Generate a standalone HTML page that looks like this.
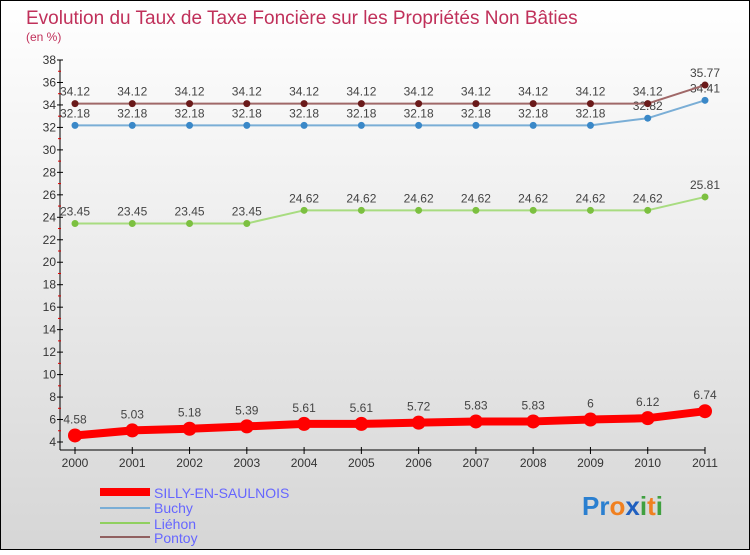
<!DOCTYPE html>
<html><head><meta charset="utf-8"><style>
html,body{margin:0;padding:0}
body{width:750px;height:550px;overflow:hidden;font-family:"Liberation Sans",sans-serif}
</style></head><body>
<svg id="chart" width="750" height="550" xmlns="http://www.w3.org/2000/svg">
<defs><linearGradient id="bg" x1="0" y1="0" x2="0" y2="1"><stop offset="0" stop-color="#ffffff"/><stop offset="1" stop-color="#d6d6d6"/></linearGradient></defs>
<rect x="0.5" y="0.5" width="749" height="549" fill="url(#bg)" stroke="#000"/>
<text x="26" y="24" font-size="19" fill="#c0305a">Evolution du Taux de Taxe Foncière sur les Propriétés Non Bâties</text>
<text x="26" y="41" font-size="12" fill="#c0305a">(en %)</text>
<g id="axes"></g><g id="series"></g>
<g>
<rect x="100" y="488" width="50" height="8" fill="#f00"/>
<text x="154" y="498" font-size="14" fill="#6666ff">SILLY-EN-SAULNOIS</text>
<line x1="100" y1="508" x2="150" y2="508" stroke="#7aaed6" stroke-width="2"/>
<text x="154" y="513" font-size="14" fill="#6666ff">Buchy</text>
<line x1="100" y1="523" x2="150" y2="523" stroke="#90d060" stroke-width="2"/>
<text x="154" y="529" font-size="14" fill="#6666ff">Liéhon</text>
<line x1="100" y1="537" x2="150" y2="537" stroke="#906060" stroke-width="2"/>
<text x="154" y="543" font-size="14" fill="#6666ff">Pontoy</text>
</g>
<text x="582" y="515" font-size="26" font-weight="bold"><tspan fill="#2a7fd0">Pr</tspan><tspan fill="#f08020">o</tspan><tspan fill="#2060c0">x</tspan><tspan fill="#40a040">i</tspan><tspan fill="#f08020">t</tspan><tspan fill="#40a040">i</tspan></text>
</svg>
<script>
const years=["2000","2001","2002","2003","2004","2005","2006","2007","2008","2009","2010","2011"];
const silly=[4.58,5.03,5.18,5.39,5.61,5.61,5.72,5.83,5.83,6,6.12,6.74];
const buchy=[32.18,32.18,32.18,32.18,32.18,32.18,32.18,32.18,32.18,32.18,32.82,34.41];
const liehon=[23.45,23.45,23.45,23.45,24.62,24.62,24.62,24.62,24.62,24.62,24.62,25.81];
const pontoy=[34.12,34.12,34.12,34.12,34.12,34.12,34.12,34.12,34.12,34.12,34.12,35.77];
const yTicks=[4,6,8,10,12,14,16,18,20,22,24,26,28,30,32,34,36,38];
const NS="http://www.w3.org/2000/svg";
const x=i=>75+i*(630/(years.length-1));
const y=v=>442-(v-4)*(382/34);
function mk(t,a,p){const e=document.createElementNS(NS,t);for(const k in a)e.setAttribute(k,a[k]);p.appendChild(e);return e;}
const ax=document.getElementById('axes');
const yl=mk('line',{x1:60,y1:60,x2:60,y2:450,stroke:'#000'},ax);

const xl=mk('line',{x1:60,y1:450,x2:705,y2:450,stroke:'#000'},ax);

yTicks.forEach((t,i)=>{
 mk('line',{x1:57,y1:y(t),x2:63,y2:y(t),stroke:'#000'},ax);
 if(i<yTicks.length-1)mk('line',{x1:58,y1:y(t+1),x2:61,y2:y(t+1),stroke:'#d00'},ax);
 const l=mk('text',{x:56,y:y(t)+4,'font-size':12,fill:'#333','text-anchor':'end'},ax);
 
 
 l.textContent=t;
});
years.forEach((yr,i)=>{
 mk('line',{x1:x(i),y1:447,x2:x(i),y2:454,stroke:'#000'},ax);
 const l=mk('text',{x:x(i),y:467,'font-size':12,fill:'#333','text-anchor':'middle'},ax);
 
 
 l.textContent=yr;
});
const sg=document.getElementById('series');
function draw(name,vals,color,dot,w,r,lab){
 const g=mk('g',{},sg);
 
 
 const pl=mk('polyline',{points:vals.map((v,i)=>x(i)+','+y(v)).join(' '),fill:'none',stroke:color,'stroke-width':w,'stroke-linejoin':'round'},g);
 
 
 vals.forEach((v,i)=>{
  const c=mk('circle',{cx:x(i),cy:y(v),r:r,fill:dot},g);
  
  
  const t=mk('text',{x:x(i),y:y(v)-lab,'font-size':12,fill:'#444','text-anchor':'middle'},g);
  
  
  t.textContent=v;
 });
}
draw('liehon',liehon,'#a8dc80','#7cc040',2,3.5,8);
draw('buchy',buchy,'#7aaed6','#3a88c8',2,3.5,8);
draw('pontoy',pontoy,'#a06868','#6a1a1a',2,3.5,8);
draw('silly',silly,'#f00','#f00',8,7,12);
</script>
</body></html>
